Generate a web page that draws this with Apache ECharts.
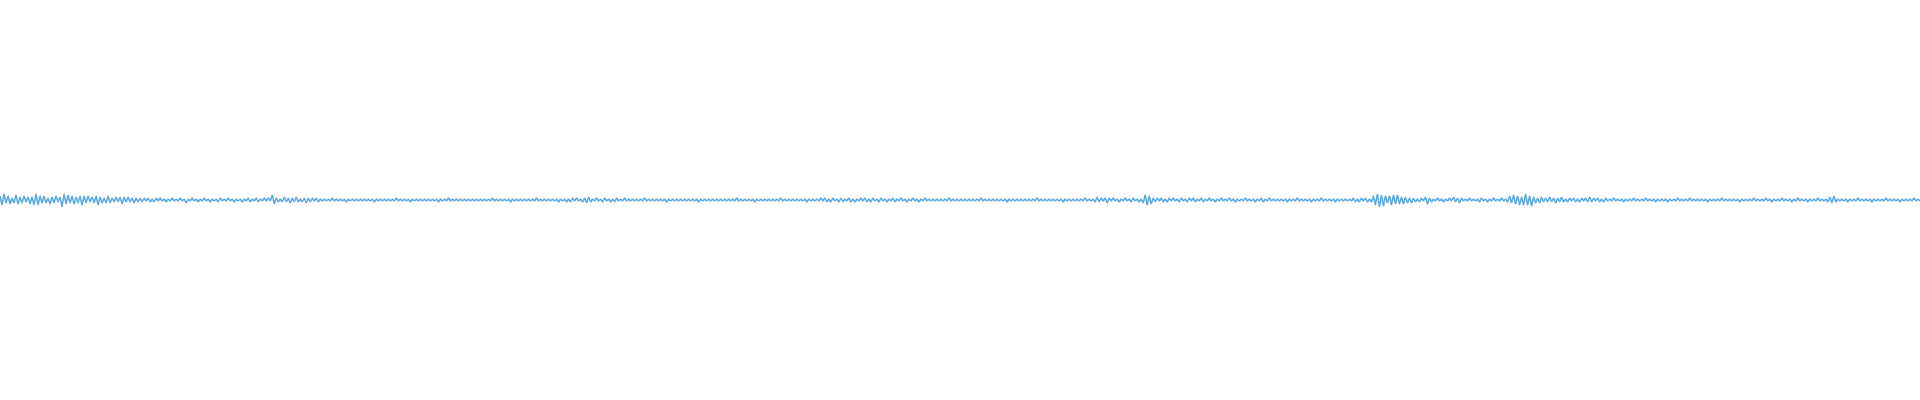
<!DOCTYPE html>
<html>
<head>
<meta charset="utf-8">
<script src="https://cdn.jsdelivr.net/npm/echarts@6/dist/echarts.min.js"></script>
<style>html,body{margin:0;padding:0;background:#fff}#c{width:1920px;height:400px}</style>
</head>
<body>
<div id="c"></div>
<script>
// waveform samples (arbitrary amplitude units) in 8 chunks
const wave1 = [4,-5,6,-3,4,-4,2,-3,5,-4,3,
-3,4,-2,3,-4,3,-5,6,-5,4,
-3,4,-3,2,-4,3,-3,4,-2,3,
-7,6,-4,5,-3,4,-4,3,-3,4,
-5,4,-3,4,-2,3,-3,4,-5,3,
-3,2,-3,4,-3,2,-2,3,-2,3,
-4,3,-2,3,-2,2,-3,2,-2,2,
-2,2,-1,2,-2,1,-2,2,-1,2,
-1,1,-2,1,-1,2,-1,1,-1,2,-1,1,-3,1,-1,2,-1,1,-2,1,
-1,2,-1,1,-2,1,-1,1,-2,2,-1,1,-1,2,-1,1,-2,1,-1];
const wave2 = [1,-2,1,-1,2,-2,1,-1,2,-2,1,-1,2,-1,2,-1,
5,-4,2,
-2,1,-2,3,-2,2,-3,2,-2,3,-2,1,-2,2,-3,2,-2,2,-1,2,-2,1,
-1,1,-1,1,-1,2,-1,1,-1,1,-1,1,-2,1,-1,1,-1,1,-1,1,-1,1,-1,1,-1,1,-2,1,-1,1,
-1,1,-1,1,-1,1,-1,2,-1,1,-1,1,-1,1,-2,1,-1,1,-1,1,-1,1,-1,1,-1,1,-1,1,-2,1,
-1,1,-1,2,-1,1,-1,1,-1,1,-1,1,-1,1,-1,1,-1,1,-1];
const wave3 = [1,-1,1,-1,1,-1,2,-1,1,-1,1,-1,1,-1,1,-2,1,-1,1,-1,1,-1,1,-1,1,-1,1,-1,2,-1,1,-1,1,-1,1,-1,1,-1,1,-2,1,-1,1,
-2,1,-2,2,-1,2,-1,1,-2,2,-3,3,-2,1,-1,2,-1,1,-2,2,-1,1,-2,1,-2,2,-1,1,-1,2,
-1,1,-1,1,-1,1,-1,1,-1,2,-1,1,-1,1,-1,1,-1,1,-1,1,-2,1,-1,1,-1,1,-1,1,-1,1,-1,1,-1,1,-1,1,-2,1,-1,1,-1,1,-1,1,-1,1,-1];
const wave4 = [1,-1,1,-1,1,-1,1,-1,2,-1,1,-1,1,-1,1,-1,1,-2,1,-1,1,-1,1,-1,1,-1,1,-1,1,-1,2,-1,1,-1,1,-1,1,-1,1,-1,1,-1,1,-2,1,-1,1,-1,1,-1,
2,-1,2,-2,1,-2,2,-1,1,-2,2,-2,1,-1,2,-2,1,-2,1,-1,2,-1,2,-2,1,-2,2,-1,1,-2,2,-1,1,-2,1,-1,2,-2,1,-1,2,-1,1,-2,1,-1,2,-1,1,-2,1,-1,2,-1,1,-1,
1,-1,1,-1,1,-1,1,-1,2,-1,1,-1,1,-1];
const wave5 = [1,-1,1,-1,1,-1,1,-1,1,-1,2,-1,1,-1,1,-1,1,-1,1,-1,1,-1,1,-2,1,-1,1,-1,1,-1,1,-1,1,-1,1,-1,1,-1,2,-1,1,-1,1,-1,1,-1,1,-1,1,-1,1,-2,1,-1,1,-1,1,-1,1,-1,1,-1,2,-1,1,-1,1,
-2,3,-2,2,-1,2,-3,2,
-1,2,-1,1,-2,1,-1,2,-1,1,-2,2,-1,1,-2,1,
-3,5,-5,4,-4,2,
-2,2,-1,2,-2,1,-2,2,-1,2,-1,1,-2,2,-1,1,-2,2,-1,2,-2,1,-1];
const wave6 = [2,-2,1,-1,2,-1,1,-2,1,-1,2,-1,1,-1,2,-1,1,-2,1,-1,1,-1,2,-1,1,-1,1,-2,1,-1,2,-2,1,-1,2,-1,1,-1,1,-1,
1,-1,1,-2,1,-1,1,-1,2,-1,1,-1,1,-1,1,-2,1,-1,1,-1,2,-1,1,-1,1,-1,1,-2,1,-1,1,-1,1,-1,1,-1,
2,-2,1,-2,2,-1,2,-2,1,-2,
4,-5,6,-7,5,-6,4,-3,
4,-5,5,-4,5,-4,3,-4,
3,-3,2,-3,
2,-2,1,-2,2,-1,3,-4,2,-2,1,-1,2,-1];
const wave7 = [1,-2,1,-1,2,-1,3,-2,2,-3,2,-1,1,-1,2,-1,1,-1,1,-2,2,-1,1,-2,1,-1,2,-1,1,-1,2,-1,1,
-2,4,-3,5,-4,4,-5,3,
-5,6,-5,4,-6,
3,-3,2,-3,3,-2,2,
-2,3,-2,2,-3,2,-2,3,-2,1,-2,
2,-1,2,-2,1,-2,2,-1,2,-2,3,-2,2,-1,2,-2,1,-2,2,
-1,1,-1,2,-1,1,-1,1,-2,1,-1,1,-1,2,-1,1,-1,1,-1,2,-1,1,-1,1,-2,1,-1,1,-1,1,-2,1,-1,1,-1,2,-1];
const wave8 = [1,-1,1,-1,2,-1,1,-1,1,-1,1,-1,1,-2,1,-1,1,-1,1,-1,2,-1,1,-1,1,-1,1,-1,1,-2,1,-1,1,-1,1,-1,2,-1,1,-1,1,-1,2,-1,1,-2,1,-1,1,-1,2,-1,1,-1,1,-2,1,-1,2,-1,1,-1,1,-2,1,-1,1,-1,2,-1,1,-1,1,-2,
3,-3,4,-2,
1,-1,1,-1,1,-2,1,-1,1,-1,2,-1,1,-1,1,-1,1,-2,1,-1,1,-1,1,-1,2,-1,1,-1,1,-1,1,-2,1,-1,1,-1,1,-1,2,-1,1,-1];

const samples = [].concat(wave1, wave2, wave3, wave4, wave5, wave6, wave7, wave8);

const chart = echarts.init(document.getElementById('c'), null, {renderer: 'canvas'});
chart.setOption({
  animation: false,
  backgroundColor: '#ffffff',
  grid: {left: 0, right: 0, top: 60, bottom: 60},
  xAxis: {type: 'category', boundaryGap: false, show: false},
  yAxis: {type: 'value', min: -140, max: 140, show: false},
  series: [{
    type: 'line',
    data: samples,
    showSymbol: false,
    sampling: null,
    lineStyle: {color: '#5aa9e0', width: 1.5},
    itemStyle: {color: '#5aa9e0'}
  }]
});
</script>
</body>
</html>
